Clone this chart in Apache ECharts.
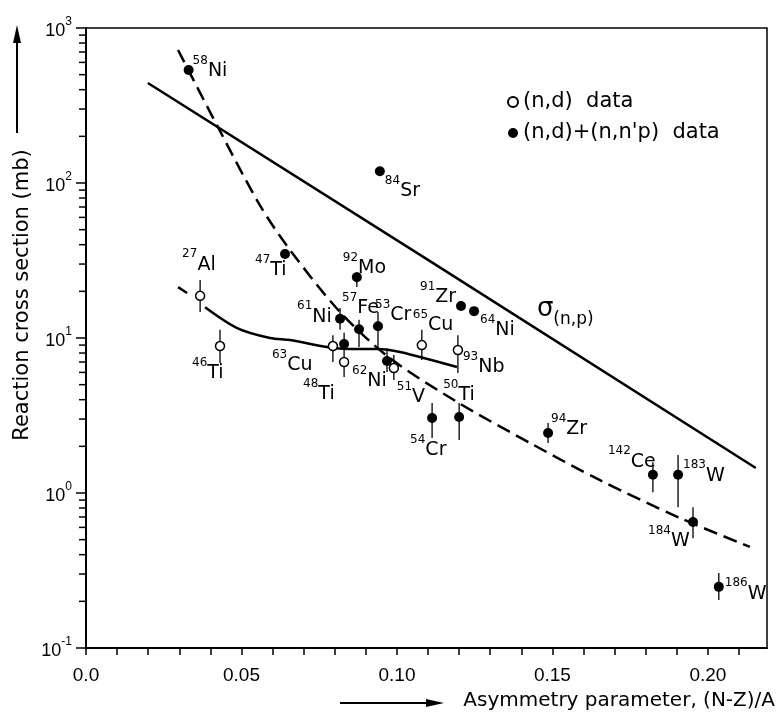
<!DOCTYPE html>
<html><head><meta charset="utf-8">
<script src="https://cdn.jsdelivr.net/npm/echarts@6/dist/echarts.min.js"></script>
<style>html,body{margin:0;padding:0;background:#fff}#c{width:778px;height:716px}</style>
</head><body><div id="c"></div>
<script>
// ---------------- data ----------------
// (n,d)+(n,n'p) data (filled circles)
const filledMass = ['58','84','47','92','61','57','53','48','62','54','50','91','64','94','142','183','184','186'];
const filledElem = ['Ni','Sr','Ti','Mo','Ni','Fe','Cr','Ti','Ni','Cr','Ti','Zr','Ni','Zr','Ce','W','W','W'];
const filledX  = [0.033,0.0945,0.064,0.0871,0.0817,0.0878,0.0939,0.083,0.0968,0.1113,0.120,0.1206,0.1248,0.1486,0.1823,0.1904,0.1952,0.2035];
const filledY  = [536,119,34.8,24.7,13.3,11.4,11.9,9.15,7.1,3.05,3.09,16.1,14.9,2.44,1.31,1.31,0.65,0.248];
const filledLo = [null,null,null,21.3,11.3,8.75,8.37,8.13,6.04,2.26,2.2,null,null,2.1,1.01,0.81,0.51,0.204];
const filledHi = [null,null,null,26.7,15.6,13.1,14.7,10.8,8.6,3.81,3.81,null,null,2.83,1.58,1.76,0.81,0.305];
// (n,d) data (open circles)
const openMass = ['27','46','63','48','51','65','93'];
const openElem = ['Al','Ti','Cu','Ti','V','Cu','Nb'];
const openX  = [0.0367,0.0431,0.0794,0.083,0.099,0.108,0.1196];
const openY  = [18.7,8.87,8.87,7.0,6.4,9.0,8.37];
const openLo = [14.7,6.9,7.0,5.6,5.36,7.2,5.94];
const openHi = [23.7,11.3,10.4,8.13,7.77,11.3,10.4];
// sigma(n,p) solid line
const sigmaX = [0.0199,0.1096,0.2154];
const sigmaY = [442,32.3,1.45];
// dashed curve
const dashX = [0.0296,0.0424,0.0559,0.0656,0.0817,0.0977,0.1193,0.1434,0.1653,0.191,0.2135];
const dashY = [721,230,72,37,14.7,7.43,3.87,2.07,1.21,0.69,0.449];
// solid (n,d) curve ('-' = gap)
const ndX = [0.0296,0.0325,0.0350,0.0383,0.0486,0.0592,0.0656,0.0775,0.0842,0.0936,0.101,0.1193];
const ndY = [21.3,19.5,'-',15.8,11.6,10.0,9.7,8.75,8.5,8.5,8.13,6.5];
// axis ticks / labels
const xTickLabels = ['0.0','0.05','0.10','0.15','0.20'];
const xTickLabelValues = [0,0.05,0.10,0.15,0.20];
const yDecades = [0.1,1,10,100,1000];
const yExponents = ['-1','0','1','2','3'];
const yMinorMultipliers = [2,3,4,5,6,7,8,9];

// ---------------- layout (pixel offsets of labels: [dx, dy of element centre]) ----------------
const filledLabelPos = [[4,1],[5,20],[-30,16],[-14,-9],[-43,-2],[-17,-21],[-3,-11],null,[-35,20],[-22,32],[-16,-22],[-41,-9],[6,19],[3,-4],[-45,-13],[5,1],[-45,19],[6,7]];
const openLabelPos = [[-18,-31],[-28,27],[-61,19],[-41,32],[3,29],[-9,-20],[5,17]];
const sigmaLabelAt = [0.145,14.7];

const FONT = 'DejaVu Sans';
const pairs = (xs, ys) => xs.map((x,i)=>[x, ys[i]]);

function buildPoints(xs, ys, mass, elem, pos) {
  return xs.map((x,i)=>{
    const item = {value:[x, ys[i]]};
    const p = pos[i];
    if (p) item.label = {show:true, formatter:'{m|'+mass[i]+'}{e|'+elem[i]+'}', offset:[p[0], p[1]-3.5]};
    return item;
  });
}
const errData = [];
filledX.forEach((x,i)=>{ if (filledLo[i]!=null) errData.push([x, filledLo[i], filledHi[i]]); });
openX.forEach((x,i)=>{ if (openLo[i]!=null) errData.push([x, openLo[i], openHi[i]]); });

const yTickData = [];
yDecades.forEach((d,k)=>{
  yTickData.push([0, d, 1]);
  if (k < yDecades.length-1) yMinorMultipliers.forEach(m=>yTickData.push([0, d*m, 0]));
});

const labelRich = {
  m:{fontFamily:FONT,fontSize:12,lineHeight:12,padding:[0,0,14,0],color:'#000'},
  e:{fontFamily:FONT,fontSize:19,lineHeight:19,padding:[7,0,0,0],color:'#000'}
};
const pointLabel = {show:false, position:'inside', align:'left', verticalAlign:'middle', color:'#000', rich:labelRich};

const openName = '(n,d)  data';
const filledName = "(n,d)+(n,n'p)  data";

const chart = echarts.init(document.getElementById('c'), null, {renderer:'canvas'});
chart.setOption({
  animation:false,
  backgroundColor:'#fff',
  grid:{left:86,right:11,top:28,bottom:68,show:true,borderColor:'#000',borderWidth:1.5,backgroundColor:'transparent'},
  legend:{
    data:[openName, filledName], orient:'vertical', left:502, top:86, itemWidth:10, itemHeight:10, itemGap:9,
    textStyle:{fontFamily:FONT,fontSize:21,lineHeight:22,color:'#000'}
  },
  xAxis:{
    type:'value', min:0, max:0.219, interval:0.01,
    axisLine:{lineStyle:{color:'#000',width:2}},
    axisTick:{length:7,lineStyle:{color:'#000',width:1.5}},
    splitLine:{show:false},
    axisLabel:{
      color:'#000', fontFamily:'Liberation Sans', fontSize:19, margin:18, showMaxLabel:false,
      formatter:v=>{ const i = xTickLabelValues.findIndex(t=>Math.abs(t-v)<1e-6); return i>=0 ? xTickLabels[i] : ''; }
    }
  },
  yAxis:{
    type:'log', logBase:10, min:0.1, max:1000,
    axisLine:{lineStyle:{color:'#000',width:2}},
    axisTick:{show:false}, splitLine:{show:false}, minorTick:{show:false},
    axisLabel:{
      color:'#000', margin:14,
      formatter:v=>{ const i = yDecades.findIndex(d=>Math.abs(Math.log10(d)-Math.log10(v))<1e-6); return i>=0 ? '{b|10}{e|'+yExponents[i]+'}' : ''; },
      rich:{
        b:{fontFamily:'Liberation Sans',fontSize:18,lineHeight:18,padding:[7,0,0,0],color:'#000'},
        e:{fontFamily:'Liberation Sans',fontSize:12,lineHeight:12,padding:[0,0,13,0],color:'#000'}
      }
    }
  },
  series:[
    {type:'line', data:pairs(sigmaX,sigmaY), symbol:'none', silent:true, z:2,
     lineStyle:{color:'#000',width:2.5},
     markPoint:{symbol:'circle', symbolSize:1, itemStyle:{color:'rgba(0,0,0,0)'}, silent:true,
       data:[{coord:sigmaLabelAt}],
       label:{show:true, position:'inside', align:'left', verticalAlign:'middle', formatter:'{s|σ}{p|(n,p)}',
         rich:{
           s:{fontFamily:FONT,fontSize:26,lineHeight:26,padding:[0,0,6,0],color:'#000'},
           p:{fontFamily:FONT,fontSize:17,lineHeight:17,padding:[15,0,0,0],color:'#000'}
         }}}},
    {type:'line', data:pairs(dashX,dashY), symbol:'none', smooth:0.3, silent:true, z:2,
     lineStyle:{color:'#000',width:2.5,type:[14,7]}},
    {type:'line', data:pairs(ndX,ndY), symbol:'none', smooth:0.3, connectNulls:false, silent:true, z:2,
     lineStyle:{color:'#000',width:2.5}},
    {type:'custom', data:errData, encode:{x:0,y:[1,2]}, z:3, silent:true,
     renderItem:(params, api)=>{
       const p1 = api.coord([api.value(0), api.value(1)]);
       const p2 = api.coord([api.value(0), api.value(2)]);
       return {type:'line', shape:{x1:p1[0],y1:p1[1],x2:p2[0],y2:p2[1]}, style:{stroke:'#000',lineWidth:1.3}};
     }},
    {type:'custom', data:yTickData, encode:{x:0,y:1}, z:3, silent:true, clip:false,
     renderItem:(params, api)=>{
       const p = api.coord([api.value(0), api.value(1)]);
       const len = api.value(2) ? 10 : 7;
       return {type:'line', shape:{x1:p[0]-len,y1:p[1],x2:p[0],y2:p[1]}, style:{stroke:'#000',lineWidth:1.5}};
     }},
    {type:'scatter', name:openName, data:buildPoints(openX,openY,openMass,openElem,openLabelPos),
     symbol:'circle', symbolSize:9, z:5,
     itemStyle:{color:'#fff',borderColor:'#000',borderWidth:1.5,opacity:1},
     label:pointLabel},
    {type:'scatter', name:filledName, data:buildPoints(filledX,filledY,filledMass,filledElem,filledLabelPos),
     symbol:'circle', symbolSize:10, z:6,
     itemStyle:{color:'#000',opacity:1},
     label:pointLabel}
  ],
  graphic:[
    {type:'text', x:23, y:295, rotation:Math.PI/2, style:{text:'Reaction cross section (mb)', fontFamily:FONT, fontSize:21, fill:'#000', textAlign:'center', textVerticalAlign:'middle'}},
    {type:'line', shape:{x1:17,y1:133,x2:17,y2:40}, style:{stroke:'#000',lineWidth:2}},
    {type:'polygon', shape:{points:[[17,25],[13,43],[21,43]]}, style:{fill:'#000'}},
    {type:'line', shape:{x1:340,y1:703,x2:428,y2:703}, style:{stroke:'#000',lineWidth:2}},
    {type:'polygon', shape:{points:[[444,703],[426,699],[426,707]]}, style:{fill:'#000'}},
    {type:'text', x:775, y:701, style:{text:'Asymmetry parameter, (N-Z)/A', fontFamily:FONT, fontSize:20, fill:'#000', textAlign:'right', textVerticalAlign:'middle'}}
  ]
});
</script></body></html>
